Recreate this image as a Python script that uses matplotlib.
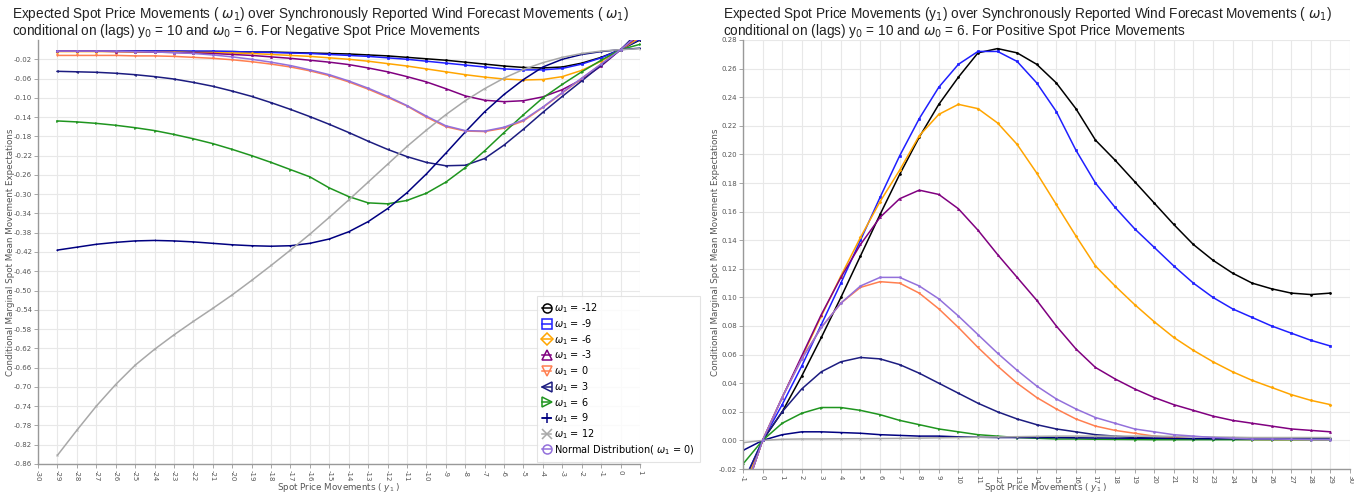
import matplotlib
matplotlib.use('Agg')
import matplotlib.pyplot as plt
from matplotlib.lines import Line2D
import numpy as np

plt.rcParams['axes.unicode_minus'] = False
plt.rcParams['mathtext.fontset'] = 'dejavusans'

# ---------------- data ----------------
x_neg = list(range(-29, 2))   # negative spot price movements
x_pos = list(range(-1, 30))   # positive spot price movements

series_labels = [r'$\omega_1$ = -12', r'$\omega_1$ = -9', r'$\omega_1$ = -6', r'$\omega_1$ = -3',
                 r'$\omega_1$ = 0', r'$\omega_1$ = 3', r'$\omega_1$ = 6', r'$\omega_1$ = 9',
                 r'$\omega_1$ = 12', r'Normal Distribution( $\omega_1$ = 0)']

# Left panel (x = -29 .. 1)
neg_m12 = [-0.003, -0.003, -0.003, -0.003, -0.003, -0.003, -0.003, -0.004, -0.004, -0.004,
           -0.005, -0.005, -0.006, -0.007, -0.008, -0.009, -0.011, -0.013, -0.016, -0.019,
           -0.022, -0.026, -0.030, -0.034, -0.037, -0.038, -0.036, -0.028, -0.016, 0.0, 0.020]
neg_m9 = [-0.003, -0.003, -0.003, -0.003, -0.003, -0.003, -0.003, -0.003, -0.003, -0.004,
          -0.005, -0.006, -0.007, -0.008, -0.010, -0.012, -0.014, -0.017, -0.020, -0.024,
          -0.028, -0.032, -0.036, -0.040, -0.042, -0.042, -0.039, -0.030, -0.017, 0.0, 0.022]
neg_m6 = [-0.004, -0.004, -0.004, -0.004, -0.005, -0.005, -0.005, -0.006, -0.006, -0.007,
          -0.008, -0.010, -0.012, -0.014, -0.017, -0.020, -0.024, -0.029, -0.034, -0.040,
          -0.046, -0.052, -0.057, -0.061, -0.063, -0.062, -0.056, -0.043, -0.024, 0.0, 0.025]
neg_m3 = [-0.003, -0.003, -0.003, -0.004, -0.004, -0.005, -0.006, -0.007, -0.008, -0.010,
          -0.012, -0.015, -0.018, -0.022, -0.026, -0.031, -0.038, -0.046, -0.056, -0.067,
          -0.081, -0.096, -0.105, -0.108, -0.106, -0.098, -0.083, -0.062, -0.034, 0.0, 0.030]
neg_0 = [-0.012, -0.012, -0.012, -0.012, -0.013, -0.013, -0.014, -0.016, -0.018, -0.021,
         -0.025, -0.030, -0.036, -0.044, -0.054, -0.067, -0.082, -0.099, -0.117, -0.140,
         -0.160, -0.169, -0.170, -0.163, -0.148, -0.120, -0.090, -0.060, -0.030, 0.0, 0.035]
neg_3 = [-0.045, -0.046, -0.047, -0.049, -0.052, -0.056, -0.061, -0.068, -0.076, -0.086,
         -0.097, -0.110, -0.124, -0.139, -0.155, -0.172, -0.190, -0.207, -0.222, -0.234,
         -0.241, -0.240, -0.226, -0.198, -0.165, -0.130, -0.097, -0.065, -0.032, 0.0, 0.040]
neg_6 = [-0.148, -0.150, -0.153, -0.157, -0.162, -0.168, -0.176, -0.185, -0.195, -0.207,
         -0.220, -0.234, -0.249, -0.264, -0.287, -0.305, -0.318, -0.320, -0.313, -0.298,
         -0.275, -0.245, -0.210, -0.172, -0.135, -0.100, -0.072, -0.046, -0.022, 0.0, 0.011]
neg_9 = [-0.416, -0.410, -0.404, -0.400, -0.397, -0.396, -0.397, -0.399, -0.402, -0.405,
         -0.407, -0.408, -0.407, -0.402, -0.393, -0.378, -0.357, -0.330, -0.297, -0.258,
         -0.215, -0.171, -0.129, -0.093, -0.062, -0.036, -0.020, -0.010, -0.004, 0.0, 0.003]
neg_12 = [-0.842, -0.790, -0.740, -0.695, -0.655, -0.622, -0.592, -0.564, -0.537, -0.509,
          -0.479, -0.448, -0.416, -0.383, -0.348, -0.312, -0.275, -0.238, -0.201, -0.167,
          -0.135, -0.106, -0.081, -0.059, -0.041, -0.027, -0.016, -0.008, -0.003, 0.0, 0.002]
neg_normal = [-0.003, -0.003, -0.003, -0.003, -0.004, -0.005, -0.006, -0.008, -0.011, -0.015,
              -0.020, -0.026, -0.033, -0.042, -0.052, -0.065, -0.080, -0.097, -0.116, -0.138,
              -0.158, -0.168, -0.169, -0.161, -0.146, -0.119, -0.089, -0.059, -0.030, 0.0, 0.034]

# Right panel (x = -1 .. 29)
pos_m12 = [-0.040, 0.0, 0.020, 0.045, 0.072, 0.100, 0.129, 0.158, 0.186, 0.212,
           0.235, 0.254, 0.271, 0.274, 0.271, 0.263, 0.250, 0.232, 0.210, 0.196,
           0.181, 0.166, 0.151, 0.137, 0.126, 0.117, 0.110, 0.106, 0.103, 0.102, 0.103]
pos_m9 = [-0.030, 0.0, 0.025, 0.052, 0.081, 0.110, 0.140, 0.170, 0.199, 0.225,
          0.247, 0.263, 0.272, 0.272, 0.265, 0.250, 0.230, 0.203, 0.180, 0.163,
          0.148, 0.135, 0.122, 0.110, 0.100, 0.092, 0.086, 0.080, 0.075, 0.070, 0.066]
pos_m6 = [-0.035, 0.0, 0.030, 0.058, 0.087, 0.115, 0.142, 0.167, 0.189, 0.213,
          0.228, 0.235, 0.232, 0.222, 0.207, 0.187, 0.165, 0.143, 0.122, 0.108,
          0.095, 0.083, 0.072, 0.063, 0.055, 0.048, 0.042, 0.037, 0.032, 0.028, 0.025]
pos_m3 = [-0.040, 0.0, 0.030, 0.059, 0.088, 0.114, 0.137, 0.156, 0.169, 0.175,
          0.172, 0.162, 0.147, 0.130, 0.114, 0.098, 0.080, 0.064, 0.051, 0.043,
          0.036, 0.030, 0.025, 0.021, 0.017, 0.014, 0.012, 0.010, 0.008, 0.007, 0.006]
pos_0 = [-0.040, 0.0, 0.030, 0.057, 0.079, 0.096, 0.107, 0.111, 0.110, 0.103,
         0.092, 0.079, 0.065, 0.052, 0.040, 0.030, 0.022, 0.015, 0.010, 0.007,
         0.005, 0.003, 0.002, 0.001, 0.001, 0.0008, 0.0006, 0.0005, 0.0005, 0.0005, 0.0005]
pos_3 = [-0.030, 0.0, 0.020, 0.036, 0.048, 0.055, 0.058, 0.057, 0.053, 0.047,
         0.040, 0.033, 0.026, 0.020, 0.015, 0.011, 0.008, 0.006, 0.004, 0.003,
         0.002, 0.0015, 0.001, 0.001, 0.001, 0.001, 0.001, 0.001, 0.001, 0.001, 0.001]
pos_6 = [-0.0165, 0.0, 0.012, 0.019, 0.023, 0.023, 0.021, 0.018, 0.014, 0.011,
         0.008, 0.006, 0.004, 0.003, 0.002, 0.0015, 0.001, 0.001, 0.0008, 0.0007,
         0.0006, 0.0005, 0.0005, 0.0005, 0.0005, 0.0005, 0.0005, 0.0005, 0.0005, 0.0005, 0.0005]
pos_9 = [-0.007, 0.0, 0.004, 0.006, 0.006, 0.0055, 0.005, 0.004, 0.0035, 0.003,
         0.003, 0.0025, 0.0022, 0.002, 0.002, 0.002, 0.002, 0.0018, 0.0017, 0.0016,
         0.0015, 0.0015, 0.0014, 0.0013, 0.0012, 0.0012, 0.0011, 0.0011, 0.001, 0.001, 0.001]
pos_12 = [-0.0016, 0.0, 0.0008, 0.001, 0.001, 0.0011, 0.0012, 0.0013, 0.0014, 0.0016,
          0.0018, 0.002, 0.0022, 0.0024, 0.0026, 0.0028, 0.003, 0.003, 0.003, 0.003,
          0.003, 0.003, 0.0028, 0.0026, 0.0024, 0.0022, 0.002, 0.002, 0.002, 0.002, 0.002]
pos_normal = [-0.040, 0.0, 0.030, 0.057, 0.079, 0.096, 0.108, 0.114, 0.114, 0.108,
              0.099, 0.087, 0.074, 0.061, 0.049, 0.038, 0.029, 0.022, 0.016, 0.012,
              0.008, 0.006, 0.004, 0.003, 0.002, 0.0015, 0.001, 0.001, 0.0008, 0.0006, 0.0005]

neg_series = [neg_m12, neg_m9, neg_m6, neg_m3, neg_0, neg_3, neg_6, neg_9, neg_12, neg_normal]
pos_series = [pos_m12, pos_m9, pos_m6, pos_m3, pos_0, pos_3, pos_6, pos_9, pos_12, pos_normal]

colors = ['#000000', '#1f1fff', '#ffa500', '#800080', '#ff7f50',
          '#1c1c80', '#1f951f', '#000080', '#a8a8a8', '#9370db']
markers = ['o', 's', 'D', '^', 'v', '<', '>', '+', 'x', 'o']

# ---------------- figure ----------------
W, H = 1354, 496
fig = plt.figure(figsize=(W / 100, H / 100), dpi=100)

tick_color = '#555555'


def style_axes(ax, xticks, yticks, yfmt):
    ax.set_xticks(xticks)
    ax.set_xticklabels([str(v) for v in xticks], rotation=-90, fontsize=5, color=tick_color)
    ax.set_yticks(yticks)
    ax.set_yticklabels([yfmt(v) for v in yticks], fontsize=5, color=tick_color)
    ax.grid(True, color='#e8e8e8', linewidth=0.8)
    ax.set_axisbelow(True)
    for s in ['top', 'right']:
        ax.spines[s].set_visible(False)
    for s in ['left', 'bottom']:
        ax.spines[s].set_color('#999999')
        ax.spines[s].set_linewidth(1.0)
    ax.tick_params(axis='both', length=3, width=0.6, color='#999999', pad=1.2)


def draw_lines(ax, xs, all_series):
    for vals, c, m in zip(all_series, colors, markers):
        ax.plot(xs, vals, color=c, linewidth=1.1, marker=m, markersize=1.4,
                markeredgewidth=0.5, clip_on=True)


# Left panel
axL = fig.add_axes([38 / W, 1 - 464 / H, (640 - 38) / W, (464 - 40) / H])
draw_lines(axL, x_neg, neg_series)
axL.set_xlim(-30, 1)
axL.set_ylim(-0.86, 0.02)
yl = [round(-0.86 + 0.04 * i, 2) for i in range(22)]
style_axes(axL, list(range(-30, 2)), yl, lambda v: f'{v:.2f}')

# Right panel
axR = fig.add_axes([743 / W, 1 - 469 / H, (1350 - 743) / W, (469 - 40) / H])
draw_lines(axR, x_pos, pos_series)
axR.set_xlim(-1, 30)
axR.set_ylim(-0.02, 0.28)
yr = [round(-0.02 + 0.02 * i, 2) for i in range(16)]
style_axes(axR, list(range(-1, 31)), yr, lambda v: f'{v:.2f}')

# Axis labels
label_font = dict(fontsize=6.3, color=tick_color)
xlabel = r'Spot Price Movements ( $y_1$ )'
ylabel = 'Conditional Marginal Spot Mean Movement Expectations'
fig.text(339 / W, 1 - 488 / H, xlabel, ha='center', va='center', **label_font)
fig.text(1046 / W, 1 - 488 / H, xlabel, ha='center', va='center', **label_font)
fig.text(11 / W, 1 - 252 / H, ylabel, rotation=90, ha='center', va='center', **label_font)
fig.text(716 / W, 1 - 252 / H, ylabel, rotation=90, ha='center', va='center', **label_font)

# Titles
title_font = dict(fontsize=9.8, family='Liberation Sans', color='#222222', va='top', ha='left')
fig.text(12 / W, 1 - 5 / H,
         r'Expected Spot Price Movements ( $\omega_1$) over Synchronously Reported Wind Forecast Movements ( $\omega_1$)',
         **title_font)
fig.text(12 / W, 1 - 22 / H,
         r'conditional on (lags) y$_0$ = 10 and $\omega_0$ = 6. For Negative Spot Price Movements',
         **title_font)
fig.text(723 / W, 1 - 5 / H,
         r'Expected Spot Price Movements (y$_1$) over Synchronously Reported Wind Forecast Movements ( $\omega_1$)',
         **title_font)
fig.text(723 / W, 1 - 22 / H,
         r'conditional on (lags) y$_0$ = 10 and $\omega_0$ = 6. For Positive Spot Price Movements',
         **title_font)

# Legend
handles = [Line2D([0], [0], color=c, marker=m, markersize=6.5, markerfacecolor='none',
                  markeredgewidth=1.1, linewidth=1.1)
           for c, m in zip(colors, markers)]
leg = fig.legend(handles, series_labels, loc='upper left',
                 bbox_to_anchor=(537 / W, 1 - 296 / H), bbox_transform=fig.transFigure,
                 fontsize=7, handlelength=0.9, handletextpad=0.3, labelspacing=0.2,
                 borderpad=0.55, borderaxespad=0.0, frameon=True, fancybox=False,
                 edgecolor='#dddddd')
leg.get_frame().set_linewidth(0.8)

fig.savefig('out.png', dpi=100)
